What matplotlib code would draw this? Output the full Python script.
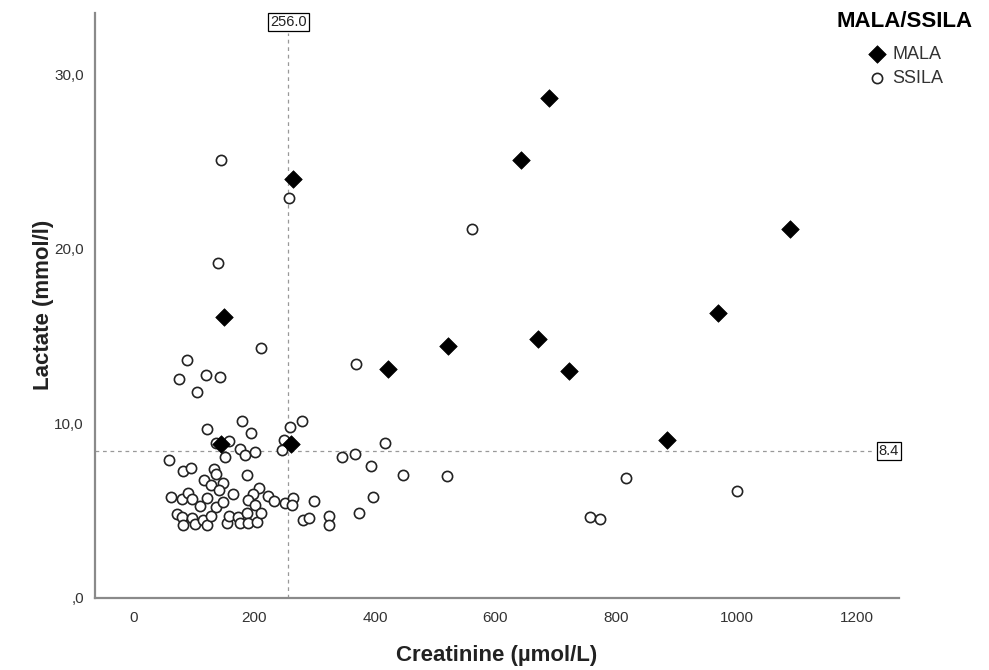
# Lactate vs creatinine, MALA vs SSILA scatter with cut-off reference lines

import matplotlib
matplotlib.use('Agg')
import matplotlib.pyplot as plt

plt.rcParams['font.family'] = ['Liberation Sans', 'DejaVu Sans']

# MALA patients (filled diamonds)
mala_creat = [689, 642, 264, 1089, 149, 969, 522, 670, 421, 722, 884, 260, 145]
mala_lact = [28.6, 25.1, 24.0, 21.1, 16.1, 16.3, 14.4, 14.8, 13.1, 13.0, 9.0, 8.8, 8.8]

# SSILA patients (open circles)
ssila_creat = [144, 257, 139, 561, 210, 88, 368, 75, 119, 143, 105,
               121, 179, 279, 194, 259, 136, 157, 176, 184, 201, 151, 249, 245,
               58, 346, 367, 417, 393, 446, 520, 396, 374,
               82, 95, 132, 136, 187, 116, 127, 147, 141, 165, 207, 197, 223,
               62, 79, 89, 96, 110, 121, 136, 147, 190, 201, 232, 251, 264, 262, 299,
               71, 79, 82, 96, 101, 115, 121, 127, 154, 157, 173, 176, 188, 190,
               204, 210, 281, 290, 324, 324,
               817, 757, 773, 1001]
ssila_lact = [25.1, 22.9, 19.2, 21.1, 14.3, 13.6, 13.4, 12.5, 12.75, 12.65, 11.75,
              9.66, 10.13, 10.14, 9.44, 9.77, 8.87, 8.95, 8.51, 8.15, 8.36, 8.07, 9.04, 8.45,
              7.88, 8.03, 8.22, 8.84, 7.54, 7.02, 6.96, 5.74, 4.83,
              7.25, 7.44, 7.36, 7.08, 7.02, 6.75, 6.45, 6.59, 6.14, 5.92, 6.3, 5.91, 5.83,
              5.74, 5.64, 5.97, 5.64, 5.26, 5.68, 5.19, 5.46, 5.59, 5.3, 5.53, 5.4, 5.68, 5.3, 5.53,
              4.8, 4.61, 4.15, 4.57, 4.23, 4.44, 4.15, 4.67, 4.29, 4.67, 4.63, 4.29, 4.83, 4.25,
              4.31, 4.83, 4.44, 4.57, 4.69, 4.15,
              6.83, 4.63, 4.5, 6.12]

# cut-off values
creat_cut = 256.0
lact_cut = 8.4

xticks = [0, 200, 400, 600, 800, 1000, 1200]
yticks = [0, 10, 20, 30]
ytick_labels = [',0', '10,0', '20,0', '30,0']

fig = plt.figure(figsize=(9.89, 6.70), dpi=100)
ax = fig.add_axes([95/989, 1-597.5/670, 804/989, 584.5/670])

ax.set_xlim(-64.7, 1269.7)
ax.set_ylim(0, 33.5)

# reference lines
ax.axvline(creat_cut, ymax=0.965, color='#999999', lw=0.9, ls=(0, (3, 3)), zorder=1)
ax.plot([-64.7, 1230], [lact_cut, lact_cut], color='#999999', lw=0.9, ls=(0, (3, 3)), zorder=1)
box = dict(boxstyle='square,pad=0.15', fc='white', ec='black', lw=0.9)
ax.text(creat_cut, 33.4, f'{creat_cut:.1f}', ha='center', va='top', fontsize=10.5,
        color='#222222', bbox=box, zorder=3)
ax.text(1.0, lact_cut, f'{lact_cut}', ha='right', va='center', fontsize=10.5,
        color='#222222', bbox=box, transform=ax.get_yaxis_transform(), zorder=3)

ax.scatter(ssila_creat, ssila_lact, s=54, marker='o', facecolors='white',
           edgecolors='#222222', linewidths=1.2, label='SSILA', zorder=4)
ax.scatter(mala_creat, mala_lact, s=80, marker='D', color='black',
           edgecolors='black', linewidths=0.5, label='MALA', zorder=5)

ax.set_xticks(xticks)
ax.set_yticks(yticks)
ax.set_yticklabels(ytick_labels)
ax.tick_params(length=0, labelsize=11, labelcolor='#333333')
ax.tick_params(axis='x', pad=10)
ax.tick_params(axis='y', pad=8)

for side in ['top', 'right']:
    ax.spines[side].set_visible(False)
for side in ['left', 'bottom']:
    ax.spines[side].set_color('#8a8a8a')
    ax.spines[side].set_linewidth(1.6)

ax.set_xlabel('Creatinine (µmol/L)', fontsize=16, fontweight='bold', color='#222222', va='center')
ax.set_ylabel('Lactate (mmol/l)', fontsize=16, fontweight='bold', color='#222222', va='center')
ax.xaxis.set_label_coords(0.5, (597.5-655)/584.5)
ax.yaxis.set_label_coords((44-95)/804, 0.5)

# legend
fig.text(905/989, 1-21.7/670, 'MALA/SSILA', ha='center', va='center',
         fontsize=16, fontweight='bold', color='black')
handles, labels = ax.get_legend_handles_labels()
leg = fig.legend(handles[::-1], labels[::-1], loc='upper left',
                 bbox_to_anchor=(868/989, 1-46/670), frameon=False, fontsize=13,
                 borderpad=0, borderaxespad=0, handlelength=1.0, handletextpad=0.35,
                 labelspacing=0.4, scatterpoints=1)
for t in leg.get_texts():
    t.set_color('#333333')

fig.savefig('out.png', dpi=100)
